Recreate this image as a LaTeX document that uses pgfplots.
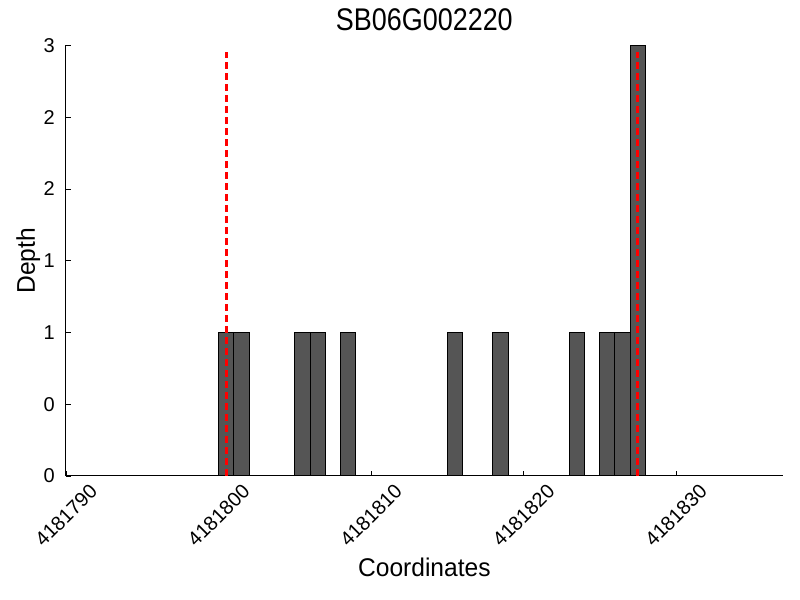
\documentclass[border=0pt]{standalone}
\usepackage{pgfplots}
\pgfplotsset{compat=1.18}
\usepackage{fontspec}
\setmainfont{Liberation Sans}
\newfontfamily\titlefont[FakeStretch=0.86]{Liberation Sans}
\newfontfamily\labelfont[FakeStretch=0.96]{Liberation Sans}
\definecolor{barfill}{RGB}{85,85,85}
\begin{document}
\begin{tikzpicture}
\path[use as bounding box] (0,0) rectangle (600pt,450pt);
\begin{axis}[
  at={(49.5pt,93pt)}, anchor=south west,
  scale only axis, width=537.5pt, height=323pt,
  xmin=4181790, xmax=4181837, ymin=0, ymax=3,
  axis lines*=left, axis line style={-, line width=0.75pt},
  tick align=inside, major tick length=4pt,
  every tick/.style={black, line width=0.5pt},
  xtick={4181790,4181800,4181810,4181820,4181830},
  xticklabels={4181790,4181800,4181810,4181820,4181830},
  ytick={0,0.5,1,1.5,2,2.5,3},
  yticklabels={0,0,1,1,2,2,3},
  scaled x ticks=false,
  /pgf/number format/assume math mode=true,
  ticklabel style={font=\fontsize{15pt}{17pt}\selectfont},
  xticklabel style={yshift=-29.5pt, rotate=45, anchor=center, inner sep=0pt},
  yticklabel style={anchor=east, inner sep=0pt, xshift=-8.25pt},
  title={SB06G002220},
  title style={at={(axis description cs:0.5,1.0162)}, anchor=base, font=\titlefont\fontsize{23.5pt}{26pt}\selectfont},
  xlabel={Coordinates},
  xlabel style={at={(axis description cs:0.5,-0.2336)}, anchor=base, font=\labelfont\fontsize{19.2pt}{22pt}\selectfont},
  ylabel={Depth},
  ylabel style={at={(axis description cs:-0.0433,0.5)}, anchor=base, font=\labelfont\fontsize{19.2pt}{22pt}\selectfont},
  clip=false,
]
\addplot[ybar, bar width=1, bar shift=0pt, fill=barfill, draw=black, line width=0.75pt] coordinates {
  (4181800.5,1) (4181801.5,1) (4181805.5,1) (4181806.5,1) (4181808.5,1)
  (4181815.5,1) (4181818.5,1) (4181823.5,1) (4181825.5,1) (4181826.5,1)
  (4181827.5,3)
};
\addplot[red, line width=2.4pt, dash pattern=on 5pt off 3.25pt] coordinates {(4181800.5,0) (4181800.5,2.953)};
\addplot[red, line width=2.4pt, dash pattern=on 5pt off 3.25pt] coordinates {(4181827.5,0) (4181827.5,2.953)};
\end{axis}
\end{tikzpicture}
\end{document}
